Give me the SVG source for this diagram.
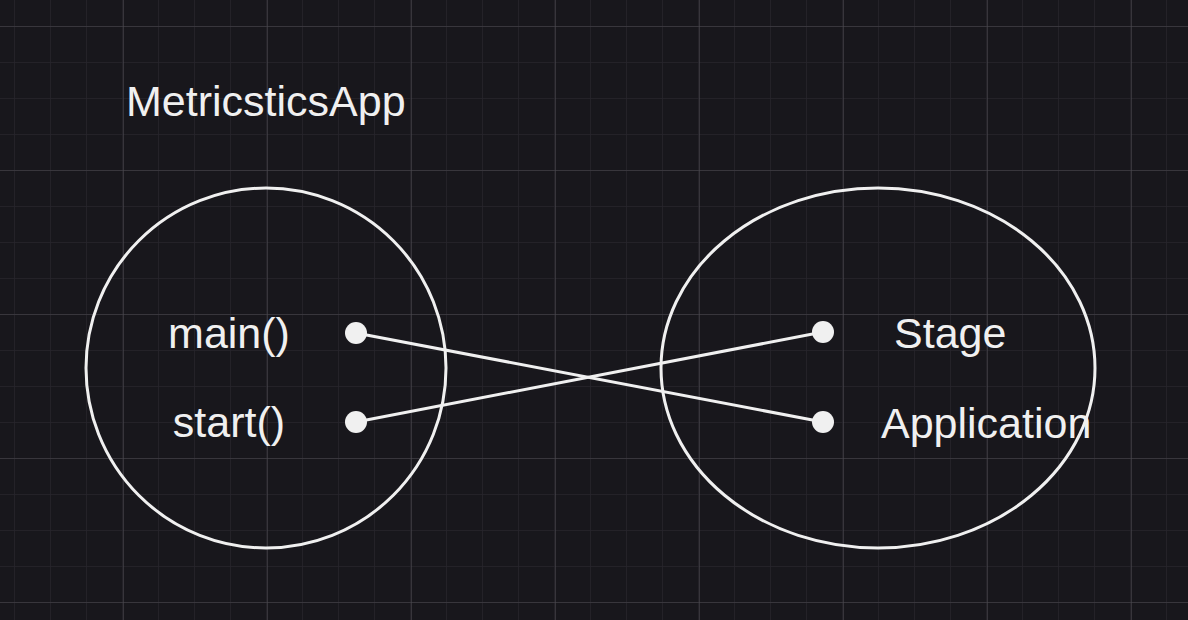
<svg xmlns="http://www.w3.org/2000/svg" width="1188" height="620" viewBox="0 0 1188 620">
<defs>
<pattern id="minor" x="14" y="26" width="36" height="36" patternUnits="userSpaceOnUse">
<path d="M0 0V36M0 0H36" fill="none" stroke="#27252c" stroke-width="1.5"/>
</pattern>
<pattern id="major" x="123" y="26" width="144" height="144" patternUnits="userSpaceOnUse">
<path d="M0 0V144M0 0H144" fill="none" stroke="#4b494f" stroke-width="1.2"/>
</pattern>
</defs>
<style>
.shape{fill:none;stroke:#f0f0f0;stroke-width:3}
.lbl{font-family:"Liberation Sans",Arial,sans-serif;font-size:43px;fill:#f0f0f0}
.wire{stroke:#f0f0f0;stroke-width:3;fill:none}
.dot{fill:#f0f0f0}
</style>
<rect width="1188" height="620" fill="#18171c"/>
<rect width="1188" height="620" fill="url(#minor)"/>
<rect width="1188" height="620" fill="url(#major)"/>
<text class="lbl" x="126" y="116">MetricsticsApp</text>
<g id="node-metricsticsapp">
<circle class="shape" cx="266" cy="368" r="180"/>
<text class="lbl" x="229" y="348" text-anchor="middle">main()</text>
<text class="lbl" x="229" y="437" text-anchor="middle">start()</text>
</g>
<g id="node-javafx">
<ellipse class="shape" cx="878" cy="368" rx="217" ry="180"/>
<text class="lbl" x="894" y="348">Stage</text>
<text class="lbl" x="881" y="438">Application</text>
</g>
<g id="connectors">
<line class="wire" x1="356" y1="333" x2="823" y2="422"/>
<line class="wire" x1="356" y1="422" x2="823" y2="332"/>
<circle class="dot" cx="356" cy="333" r="11"/>
<circle class="dot" cx="356" cy="422" r="11"/>
<circle class="dot" cx="823" cy="332" r="11"/>
<circle class="dot" cx="823" cy="422" r="11"/>
</g>
</svg>
